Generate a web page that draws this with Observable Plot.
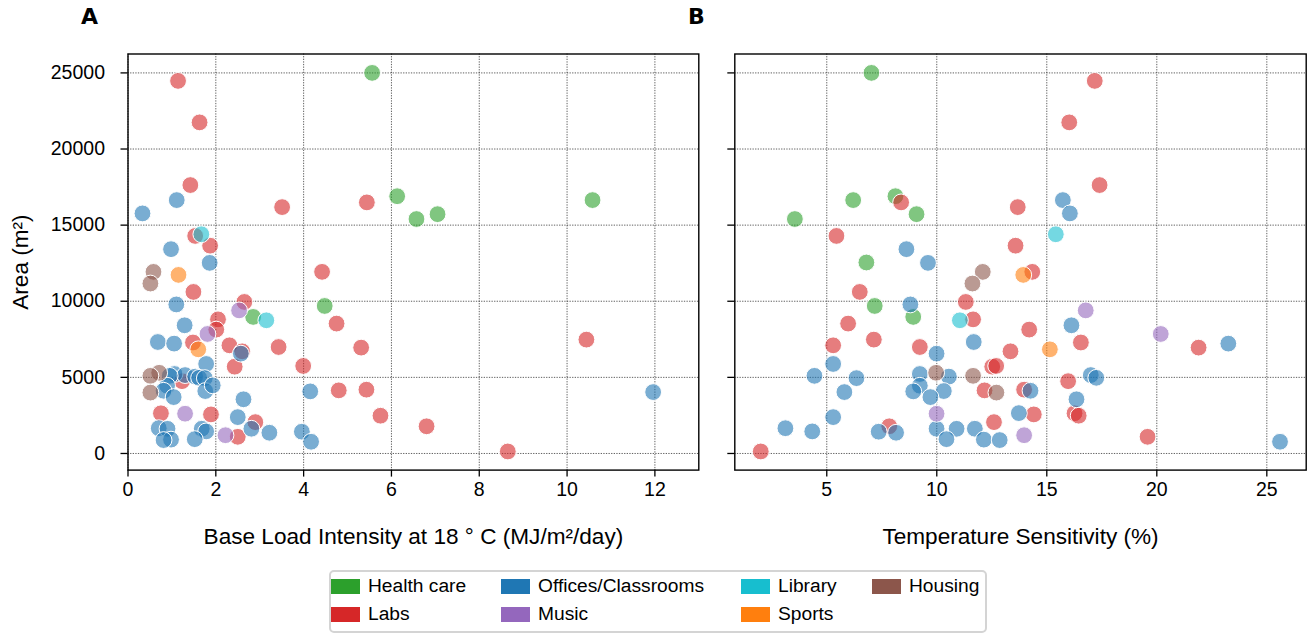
<!DOCTYPE html>
<html><head><meta charset="utf-8">
<script src="https://cdn.jsdelivr.net/npm/d3@7"></script>
<script src="https://cdn.jsdelivr.net/npm/@observablehq/plot@0.6"></script>
<style>
body{margin:0;background:#fff;font-family:"Liberation Sans",Arial,sans-serif;}
#wrap{position:relative;width:1310px;height:635px;overflow:hidden;background:#fff;}
.panel{position:absolute;top:0;}
.letter{position:absolute;top:4px;font-family:"DejaVu Sans",sans-serif;font-weight:bold;font-size:22px;color:#000;}
#legend{position:absolute;left:329px;top:570px;width:658px;height:63px;border:2px solid #d4d4d4;border-radius:5px;box-sizing:border-box;background:#fff;}
.item{position:absolute;display:flex;align-items:center;font-size:19.2px;color:#000;white-space:nowrap;}
.sw{width:29px;height:15px;margin-right:8px;}
g[aria-label="x-axis label"]{font-size:22.6px;}
g[aria-label="y-axis label"]{font-size:22.6px;}
g[aria-label="x-axis tick label"], g[aria-label="y-axis tick label"]{font-size:19.5px;}
</style></head>
<body><div id="wrap"></div>
<script>
// ---- data ----
const categories = ["Health care","Labs","Offices/Classrooms","Music","Library","Sports","Housing"];
const categoryColors = ["#2ca02c","#d62728","#1f77b4","#9467bd","#17becf","#ff7f0e","#8c564b"];

// buildings are listed grouped by type, in the order of `categories`
const buildingsPerType = [8, 31, 37, 4, 2, 2, 5];

const area = [
  // Health care
  25000,16900,15400,15720,16645,9690,8970,12546,
  // Labs
  24474,21750,17632,16184,16494,14290,13650,11930,10612,9954,8810,8138,8533,7290,7105,6711,
  6993,6954,7480,5700,5750,4750,4145,4191,2640,2566,2059,2480,1786,1095,132,
  // Offices/Classrooms
  16645,15770,13421,12520,9790,8421,7322,7217,6559,5880,5220,5150,5100,5050,4970,4950,4450,4079,
  4120,4033,4100,3704,3560,2388,1660,1620,1625,1625,1450,1430,1362,940,910,880,770,4474,2652,
  // Music
  9400,7850,2612,1200,
  // Library
  14400,8750,
  // Sports
  11730,6842,
  // Housing
  11928,11164,5300,5100,4000
];
// Base load intensity at 18 °C (MJ/m2/day); null = not shown
const baseLoad = [
  5.56,6.13,6.57,7.05,10.58,4.48,2.85,null,
  1.14,1.63,1.42,3.51,5.44,1.53,1.87,4.42,1.49,2.65,2.05,2.01,4.75,1.48,2.31,2.60,
  3.43,5.31,10.44,2.43,3.99,1.23,4.80,5.43,0.75,1.89,2.90,5.75,6.80,2.50,8.65,
  1.11,0.33,0.98,1.86,1.10,1.29,0.68,1.05,2.57,1.78,1.06,1.30,0.95,1.53,1.62,1.75,0.89,4.15,
  0.81,11.96,1.76,1.04,2.63,2.50,0.70,0.90,1.68,2.81,1.78,3.96,3.22,1.52,0.98,0.81,4.17,1.93,null,
  2.53,1.81,1.30,2.22,
  1.67,3.15,
  1.15,1.60,
  0.58,0.51,0.71,0.51,0.51
];
// Temperature sensitivity (%); null = not shown
const tempSens = [
  7.03,8.12,3.55,9.08,6.20,7.18,8.93,6.80,
  17.18,16.02,17.40,13.68,8.38,5.44,13.58,14.34,6.50,11.32,11.65,14.20,5.97,16.55,5.29,13.35,
  9.23,21.90,7.14,12.52,12.70,15.97,12.17,13.97,16.26,14.41,12.60,16.45,7.84,19.58,2.00,
  15.73,16.05,8.62,9.60,8.80,16.12,11.68,23.25,9.99,5.29,9.23,17.00,4.44,10.55,17.25,6.35,9.23,8.93,
  14.26,5.80,10.32,9.71,16.35,5.29,3.12,10.90,9.99,11.73,4.34,7.36,8.15,10.44,12.14,12.86,25.60,null,13.73,
  16.77,20.18,9.99,13.97,
  15.41,11.05,
  13.93,15.14,
  12.09,11.62,9.97,11.65,12.71
];
const areaTicks = [0,5000,10000,15000,20000,25000];
const baseLoadTicks = [0,2,4,6,8,10,12];
const tempSensTicks = [5,10,15,20,25];

const buildingType = categories.flatMap((c, i) => Array(buildingsPerType[i]).fill(c));

// ---- drawing ----
const FONT = "'Liberation Sans', Arial, sans-serif";
const H = 560, MT = 53.5, MB = 90.4;
const yDomain = [-1092, 26242];
const TICK_FONT = 19.5;

function panel({xs, xDomain, xTicks, xLabel, width, ml, mr, yLabels}) {
  const rows = d3.range(area.length)
    .filter(i => xs[i] != null)
    .map(i => ({type: buildingType[i], x: xs[i], y: area[i]}));
  const gridStyle = {stroke: "#222", strokeOpacity: 0.9, strokeWidth: 0.8, strokeDasharray: "1.3,1.3"};
  return Plot.plot({
    width, height: H, marginLeft: ml, marginRight: mr, marginTop: MT, marginBottom: MB,
    style: {fontFamily: FONT, fontSize: TICK_FONT + "px", color: "#000", background: "transparent", overflow: "visible"},
    x: {domain: xDomain},
    y: {domain: yDomain},
    color: {domain: categories, range: categoryColors},
    marks: [
      Plot.gridX(xTicks, gridStyle),
      Plot.gridY(areaTicks, gridStyle),
      Plot.axisX(xTicks, {tickSize: 7, tickPadding: 5, strokeWidth: 1.3, fontSize: TICK_FONT, tickFormat: d3.format("d"),
        label: xLabel, labelAnchor: "center", labelArrow: "none", labelOffset: 74}),
      Plot.axisY(areaTicks, {tickSize: 7, tickPadding: 16, strokeWidth: 1.3, fontSize: TICK_FONT,
        tickFormat: yLabels ? d3.format("d") : () => "",
        label: yLabels ? "Area (m²)" : null, labelAnchor: "center", labelArrow: "none", labelOffset: 116}),
      Plot.dot(rows, {x: "x", y: "y", fill: "type", r: 8.4, fillOpacity: 0.6, stroke: "white", strokeWidth: 1}),
      Plot.frame({stroke: "#000", strokeWidth: 1.4})
    ]
  });
}

const wrap = document.getElementById("wrap");
const A = panel({xs: baseLoad, xDomain: [0, 13], xTicks: baseLoadTicks,
  xLabel: "Base Load Intensity at 18 ° C (MJ/m²/day)", width: 716, ml: 127.5, mr: 17.7, yLabels: true});
A.classList.add("panel"); A.style.left = "0px";
wrap.appendChild(A);
const B = panel({xs: tempSens, xDomain: [0.82, 26.79], xTicks: tempSensTicks,
  xLabel: "Temperature Sensitivity (%)", width: 594, ml: 18.3, mr: 4.3, yLabels: false});
B.classList.add("panel"); B.style.left = "716px";
wrap.appendChild(B);

for (const [t, x] of [["A", 81], ["B", 688]]) {
  const d = document.createElement("div");
  d.className = "letter"; d.textContent = t; d.style.left = x + "px";
  wrap.appendChild(d);
}

// legend (matplotlib ncol=4, column-major)
const legend = document.createElement("div");
legend.id = "legend";
wrap.appendChild(legend);
const colX = [0, 170, 410, 541];
categories.forEach((c, i) => {
  const col = Math.floor(i / 2), row = i % 2;
  const it = document.createElement("div");
  it.className = "item";
  it.style.left = colX[col] + "px";
  it.style.top = (row === 0 ? 3 : 31) + "px";
  const sw = document.createElement("span");
  sw.className = "sw"; sw.style.background = categoryColors[i];
  const tx = document.createElement("span");
  tx.textContent = c;
  it.appendChild(sw); it.appendChild(tx);
  legend.appendChild(it);
});
</script>
</body></html>
